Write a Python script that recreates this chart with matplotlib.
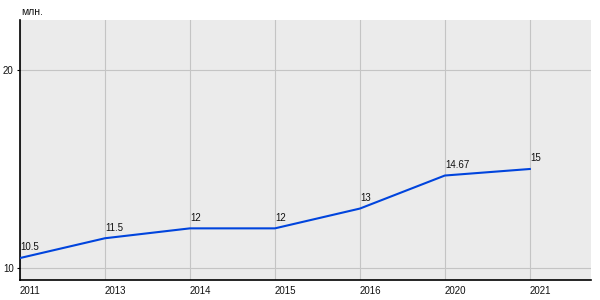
import matplotlib.pyplot as plt

plt.rcParams['font.family'] = ['Liberation Sans', 'DejaVu Sans']

years = ["2011", "2013", "2014", "2015", "2016", "2020", "2021"]
values = [10.5, 11.5, 12, 12, 13, 14.67, 15]
labels = ["10.5", "11.5", "12", "12", "13", "14.67", "15"]
y_ticks = [10, 20]

fig = plt.figure(figsize=(6, 3), dpi=100)
ax = fig.add_axes([20 / 600, 20 / 300, 571 / 600, 260 / 300])
ax.set_facecolor("#EBEBEB")

x = list(range(len(years)))
ax.plot(x, values, color="#0044DD", linewidth=1.5, zorder=3)

for xi, v, lab in zip(x, values, labels):
    ax.annotate(lab, (xi, v), xytext=(0, 4), textcoords="offset points",
                ha="left", va="bottom", fontsize=7, color="#111111")

ax.set_xlim(0, 6.72)
ax.set_ylim(9.39, 22.53)
ax.set_xticks(x)
ax.set_xticklabels(years, ha="left")
ax.set_yticks(y_ticks)
ax.grid(True, color="#C4C4C4", linewidth=0.8)
ax.set_axisbelow(True)

ax.tick_params(axis="x", length=0, labelsize=7, pad=4, labelcolor="#111111")
ax.tick_params(axis="y", length=2.5, width=0.8, labelsize=7, pad=2,
               labelcolor="#111111", color="black")

for side in ["top", "right"]:
    ax.spines[side].set_visible(False)
for side in ["left", "bottom"]:
    ax.spines[side].set_color("black")
    ax.spines[side].set_linewidth(1.2)

fig.text(21 / 600, 1 - 12 / 300, "млн.", fontsize=7.5, ha="left", va="center",
         color="#111111")

fig.savefig("out.png", dpi=100)
